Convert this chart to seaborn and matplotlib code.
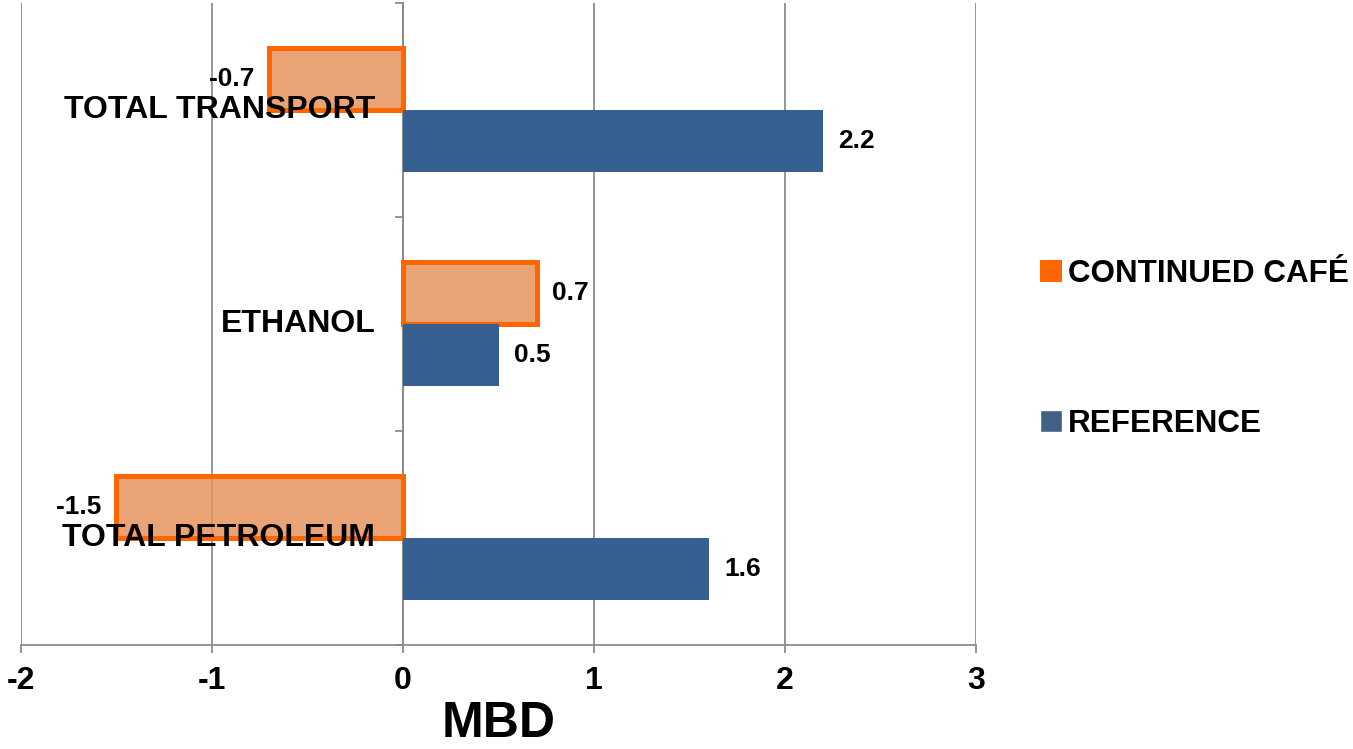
import matplotlib
matplotlib.use("Agg")
import matplotlib.pyplot as plt
import seaborn as sns
import pandas as pd

categories = ["TOTAL TRANSPORT", "ETHANOL", "TOTAL PETROLEUM"]
series_names = ["CONTINUED CAFÉ", "REFERENCE"]
cafe_values = [-0.7, 0.7, -1.5]
reference_values = [2.2, 0.5, 1.6]
x_ticks = [-2, -1, 0, 1, 2, 3]

df = pd.DataFrame({
    "category": categories * 2,
    "series": [series_names[0]] * 3 + [series_names[1]] * 3,
    "MBD": cafe_values + reference_values,
})

sns.set_theme(style="white")
plt.rcParams["font.family"] = ["Liberation Sans", "DejaVu Sans"]
plt.rcParams["font.weight"] = "bold"
plt.rcParams["text.color"] = "black"
plt.rcParams["axes.labelcolor"] = "black"
plt.rcParams["xtick.labelcolor"] = "black"

fig = plt.figure(figsize=(13.53, 7.49), dpi=100)
ax = fig.add_axes([0.0155, 0.1389, 0.7059, 0.8571])

orange_edge = "#FF6600"
orange_fill = (230 / 255, 147 / 255, 92 / 255, 0.85)
blue = "#376092"

sns.barplot(data=df, y="category", x="MBD", hue="series", order=categories,
            hue_order=series_names, palette=[orange_edge, blue], width=0.58,
            orient="y", ax=ax, legend=True, zorder=3)

cafe_bars, ref_bars = ax.containers
for p in cafe_bars:
    p.set_facecolor(orange_fill)
    p.set_edgecolor(orange_edge)
    p.set_linewidth(3.6)
for p in ref_bars:
    p.set_facecolor(blue)
    p.set_edgecolor(blue)
    p.set_linewidth(0)

label_font = dict(fontsize=19, fontweight="bold", color="black")
ax.bar_label(cafe_bars, fmt="%.1f", padding=11, **label_font)
ax.bar_label(ref_bars, fmt="%.1f", padding=11, **label_font)

# Axis limits and gridlines
ax.set_xlim(-2, 3)
ax.set_ylim(2.5, -0.5)
ax.set_xticks(x_ticks)
ax.set_xticklabels([str(t) for t in x_ticks], fontsize=23, fontweight="bold",
                   color="black")
ax.grid(axis="x", color="#8c8c8c", linewidth=1.3, zorder=0)
ax.grid(axis="y", visible=False)
ax.tick_params(axis="x", direction="out", length=6, width=1.3, color="#8c8c8c",
               pad=9, bottom=True)

# Category axis sits on the zero line with ticks at band boundaries
ax.spines["left"].set_position(("data", 0))
ax.spines["left"].set_color("#8c8c8c")
ax.spines["left"].set_linewidth(1.3)
ax.spines["bottom"].set_color("#8c8c8c")
ax.spines["bottom"].set_linewidth(1.3)
ax.spines["top"].set_visible(False)
ax.spines["right"].set_visible(False)
ax.set_yticks([-0.5, 0.5, 1.5, 2.5])
ax.set_yticklabels([])
ax.tick_params(axis="y", direction="out", length=6, width=1.3, color="#8c8c8c", left=True)
ax.set_ylabel("")

for i, name in enumerate(categories):
    ax.annotate(name, xy=(0, i), xytext=(-20, 0), textcoords="offset points",
                ha="right", va="center", fontsize=23, fontweight="bold",
                color="black", zorder=6)

ax.set_xlabel("MBD", fontsize=36, fontweight="bold", labelpad=4, color="black")

handles, labels = ax.get_legend_handles_labels()
ax.get_legend().remove()
handles[0].set_facecolor(orange_edge)
handles[0].set_edgecolor(orange_edge)
handles[0].set_linewidth(0)
fig.legend(handles, labels, loc="center left", bbox_to_anchor=(1040 / 1353, 0.534),
           frameon=False, prop={"weight": "bold", "size": 22.6},
           labelcolor="black",
           handlelength=0.7, handleheight=0.7, handletextpad=0.2,
           labelspacing=3.8, borderpad=0, borderaxespad=0)

fig.savefig("out.png", dpi=100)
